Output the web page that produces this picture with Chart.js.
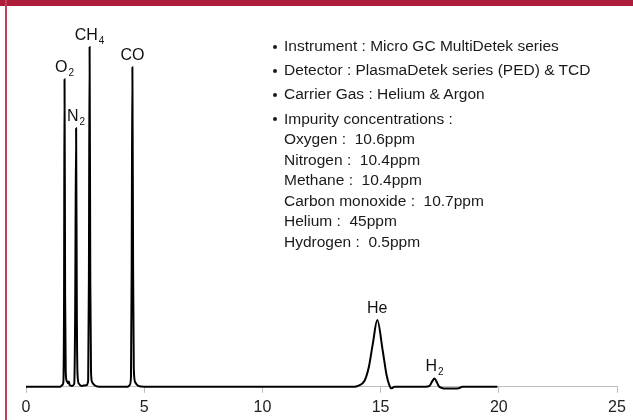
<!DOCTYPE html>
<html lang="en">
<head>
<meta charset="UTF-8">
<title>Micro GC chromatogram</title>
<script src="https://cdn.jsdelivr.net/npm/chart.js"></script>
<style>
    body { margin: 0; background: #fff; }
    #wrap { position: relative; width: 633px; height: 420px; overflow: hidden; font-family: "Liberation Sans", Arial, sans-serif; }
    #topBar { position: absolute; left: 0; top: 0; width: 633px; height: 6px; background: #ad1d3a; z-index: 2; }
    #sideBar { position: absolute; left: 5px; top: 0; width: 2px; height: 420px; background: #c0405a; z-index: 2; }
    canvas#gcChart { position: absolute; left: 0; top: 0; }
    #info { position: absolute; left: 284px; top: 36px; color: #1a1a1a; font-size: 15.5px; line-height: 20.5px; }
    #info ul { list-style: none; margin: 0; padding: 0; }
    #info li { position: relative; margin-bottom: 3.7px; white-space: nowrap; }
    #info li::before { content: ""; position: absolute; left: -11px; top: 8.5px; width: 4px; height: 4px; border-radius: 50%; background: #1a1a1a; }
</style>
</head>
<body>
<div id="wrap">
    <div id="topBar"></div>
    <div id="sideBar"></div>
    <canvas id="gcChart" width="633" height="420"></canvas>
    <div id="info"><ul id="infoList"></ul></div>
</div>

<script>
    // trace do cromatograma (tempo em min, sinal em unidades arbitrárias)
    const tempos = [0, 1.45, 1.52, 1.58, 1.61, 1.63, 1.655, 1.68, 1.72, 1.78, 1.81, 1.85, 1.95,
        2.04, 2.08, 2.12, 2.15, 2.18, 2.24, 2.35, 2.55, 2.63, 2.66, 2.69, 2.72, 2.75, 2.8, 2.9, 3.1,
        4.3, 4.38, 4.44, 4.47, 4.5, 4.53, 4.56, 4.62, 4.75, 5.0,
        13.9, 14.04, 14.32, 14.5, 14.67, 14.86, 15.09, 15.25, 15.38, 15.45, 15.59,
        16.9, 17.07, 17.18, 17.28, 17.38, 17.46, 17.6, 17.71, 18.1, 18.34, 18.45, 19.94];
    const sinal = [0, 0, 0.5, 1.5, 30, 102.3, 30, 5, 2, 1.2, 1.8, 0.5, 0.3,
        1, 25, 86, 25, 4, 1, 0.3, 0.5, 2, 35, 113, 35, 5, 1.5, 0.5, 0,
        0, 0.5, 3, 40, 106.3, 40, 6, 1.5, 0.3, 0,
        0, 0.3, 2, 6.5, 14.3, 22.2, 12, 4, 0.3, -0.5, 0,
        0, 0.3, 1.8, 2.8, 1.5, 0.2, -0.4, -0.6, -0.6, -0.4, 0, 0];

    // picos identificados
    const picoNomes = ['O', 'N', 'CH', 'CO', 'He', 'H'];
    const picoSub = ['2', '2', '4', '', '', '2'];
    const picoTempos = [1.63, 2.12, 2.69, 4.5, 14.86, 17.28];
    const picoAlturas = [102.3, 86, 113, 106.3, 22.2, 2.8];

    const xTicks = [0, 5, 10, 15, 20, 25];

    const infoItens = [
        'Instrument : Micro GC MultiDetek series',
        'Detector : PlasmaDetek series (PED) &amp; TCD',
        'Carrier Gas : Helium &amp; Argon',
        'Impurity concentrations :'
    ];
    const gases = ['Oxygen', 'Nitrogen', 'Methane', 'Carbon monoxide', 'Helium', 'Hydrogen'];
    const concentracoes = ['10.6ppm', '10.4ppm', '10.4ppm', '10.7ppm', '45ppm', '0.5ppm'];

    // monta a lista de informações
    const lista = document.getElementById('infoList');
    infoItens.forEach((txt, i) => {
        const li = document.createElement('li');
        let html = txt;
        if (i === infoItens.length - 1) {
            gases.forEach((g, j) => { html += '<br>' + g + ' :&nbsp; ' + concentracoes[j]; });
        }
        li.innerHTML = html;
        lista.appendChild(li);
    });

    // plugin para escrever o nome de cada pico acima do topo
    const rotulosPicos = {
        id: 'rotulosPicos',
        afterDatasetsDraw(chart) {
            const ctx = chart.ctx;
            const xs = chart.scales.x, ys = chart.scales.y;
            ctx.save();
            ctx.fillStyle = '#111';
            ctx.textBaseline = 'alphabetic';
            picoNomes.forEach((nome, i) => {
                ctx.font = '16px "Liberation Sans", Arial, sans-serif';
                const wNome = ctx.measureText(nome).width;
                ctx.font = '10px "Liberation Sans", Arial, sans-serif';
                const wSub = picoSub[i] ? ctx.measureText(picoSub[i]).width + 1 : 0;
                const px = xs.getPixelForValue(picoTempos[i]);
                const py = ys.getPixelForValue(picoAlturas[i]) - 7;
                const x0 = px - (wNome + wSub) / 2;
                ctx.font = '16px "Liberation Sans", Arial, sans-serif';
                ctx.textAlign = 'left';
                ctx.fillText(nome, x0, py);
                if (picoSub[i]) {
                    ctx.font = '10px "Liberation Sans", Arial, sans-serif';
                    ctx.fillText(picoSub[i], x0 + wNome + 1, py + 4);
                }
            });
            ctx.restore();
        }
    };

    const pontos = tempos.map((t, i) => ({ x: t, y: sinal[i] }));

    new Chart(document.getElementById('gcChart').getContext('2d'), {
        type: 'line',
        data: {
            datasets: [{
                data: pontos,
                borderColor: '#000',
                borderWidth: 2,
                pointRadius: 0,
                fill: false,
                cubicInterpolationMode: 'monotone',
                clip: false
            }]
        },
        options: {
            responsive: false,
            animation: false,
            events: [],
            layout: { padding: { left: 26, right: 16, top: 26, bottom: -2 } },
            plugins: { legend: { display: false }, tooltip: { enabled: false } },
            scales: {
                x: {
                    type: 'linear',
                    min: 0,
                    max: 25,
                    afterBuildTicks: axis => { axis.ticks = xTicks.map(v => ({ value: v })); },
                    grid: { drawOnChartArea: false, drawTicks: true, tickLength: 6, color: '#bdbdbd' },
                    border: { color: '#bdbdbd', width: 1 },
                    ticks: {
                        padding: 5,
                        maxRotation: 0,
                        color: '#222',
                        font: { family: '"Liberation Sans", Arial, sans-serif', size: 16 }
                    }
                },
                y: {
                    display: false,
                    min: 0,
                    max: 120
                }
            }
        },
        plugins: [rotulosPicos]
    });
</script>
</body>
</html>
